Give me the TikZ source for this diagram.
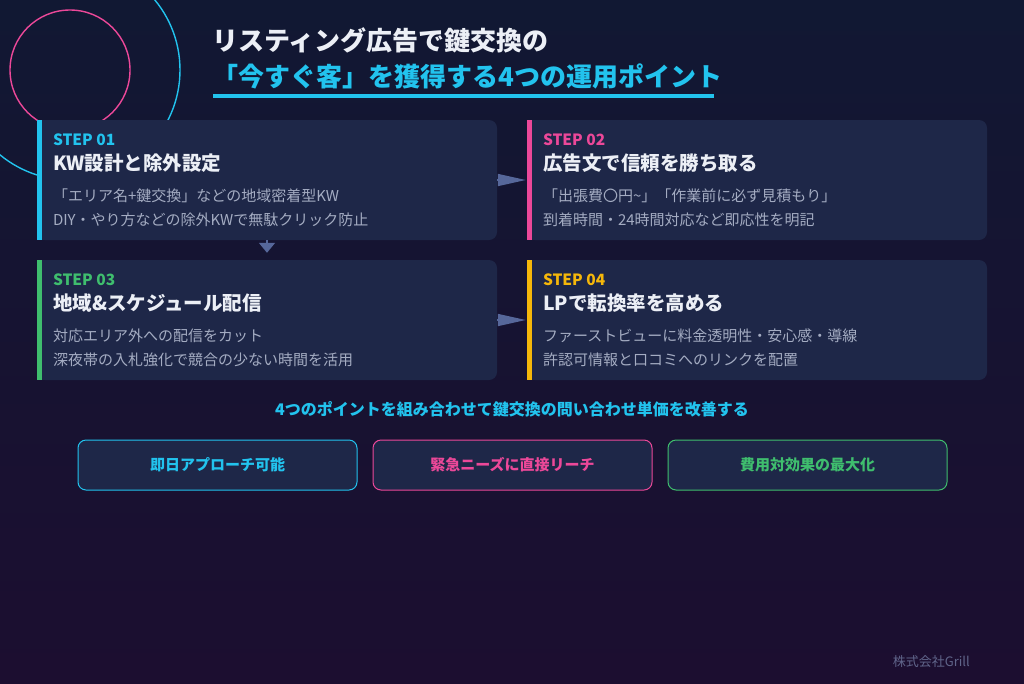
\documentclass[tikz,border=0pt]{standalone}
\usepackage{fontspec}
\setmainfont{Noto Sans CJK JP}
\usepackage{xcolor}
\usepackage{tikz}
\usetikzlibrary{positioning,arrows.meta}

\definecolor{bgtop}{HTML}{111833}
\definecolor{bgbot}{HTML}{1C0E30}
\definecolor{panel}{HTML}{1E2748}
\definecolor{kcyan}{HTML}{22C3EE}
\definecolor{kpink}{HTML}{EC4899}
\definecolor{kgreen}{HTML}{3FBE6E}
\definecolor{kamber}{HTML}{F5B70A}
\definecolor{flowc}{HTML}{56679A}
\definecolor{desctext}{HTML}{A4ACC2}
\definecolor{headtext}{HTML}{ECEFF6}
\definecolor{foottext}{HTML}{60658A}

\tikzset{
  stepbox/.style={fill=panel, rounded corners=8pt, inner sep=0pt, minimum width=460pt, minimum height=120pt},
  steptag/.style={inner sep=0pt, font=\fontsize{15.5}{18}\selectfont\bfseries},
  stephead/.style={inner sep=0pt, text=headtext, font=\fontsize{19.5}{23}\selectfont\bfseries},
  stepdesc/.style={inner sep=0pt, text=desctext, font=\fontsize{15}{18}\selectfont},
  flow/.style={draw=flowc, line width=1.5pt},
  gainbox/.style={fill=panel, rounded corners=8pt, line width=1pt, minimum width=279pt, minimum height=50pt, font=\fontsize{15}{17}\selectfont\bfseries},
}

\begin{document}
\begin{tikzpicture}[x=1pt, y=-1pt]
        \useasboundingbox (0,0) rectangle (1024,683);
        \shade [top color=bgtop, bottom color=bgbot] (0,0) rectangle (1024,683);

        % maru 丸
        \draw [kcyan, line width=1.4pt] (70,70) circle (110pt);
        \draw [kpink, line width=1.4pt] (70,70) circle (60pt);

        % taitoru タイトル
        \node (title1) [anchor=base west, inner sep=0pt, text=headtext, font=\fontsize{26}{30}\selectfont\bfseries] at (212,50) {リスティング広告で鍵交換の};
        \node (title2) [below right=36pt and 0pt of title1.base west, anchor=base west, inner sep=0pt, text=kcyan, font=\fontsize{26}{30}\selectfont\bfseries] {「今すぐ客」を獲得する4つの運用ポイント};
        \draw [kcyan, line width=4pt] (213,96) -- (714,96);

        % suteppu ステップ
        \node (box1) [stepbox] at (267,180) {};
        \fill [kcyan] (box1.north west) rectangle ([xshift=5pt]box1.south west);
        \fill [panel] ([xshift=5pt]box1.north west) rectangle ([xshift=9pt]box1.south west);
        \node (tag1) [steptag, text=kcyan, below right=26pt and 16pt of box1.north west, anchor=base west] {STEP 01};
        \node (head1) [stephead, below right=51pt and 16pt of box1.north west, anchor=base west] {KW設計と除外設定};
        \node (desc11) [stepdesc, below right=82pt and 16pt of box1.north west, anchor=base west] {「エリア名+鍵交換」などの地域密着型KW};
        \node (desc12) [stepdesc, below right=106pt and 16pt of box1.north west, anchor=base west] {DIY・やり方などの除外KWで無駄クリック防止};

        \node (box2) [stepbox] at (757,180) {};
        \fill [kpink] (box2.north west) rectangle ([xshift=5pt]box2.south west);
        \fill [panel] ([xshift=5pt]box2.north west) rectangle ([xshift=9pt]box2.south west);
        \node (tag2) [steptag, text=kpink, below right=26pt and 16pt of box2.north west, anchor=base west] {STEP 02};
        \node (head2) [stephead, below right=51pt and 16pt of box2.north west, anchor=base west] {広告文で信頼を勝ち取る};
        \node (desc21) [stepdesc, below right=82pt and 16pt of box2.north west, anchor=base west] {「出張費〇円\char`\~」「作業前に必ず見積もり」};
        \node (desc22) [stepdesc, below right=106pt and 16pt of box2.north west, anchor=base west] {到着時間・24時間対応など即応性を明記};

        \node (box3) [stepbox] at (267,320) {};
        \fill [kgreen] (box3.north west) rectangle ([xshift=5pt]box3.south west);
        \fill [panel] ([xshift=5pt]box3.north west) rectangle ([xshift=9pt]box3.south west);
        \node (tag3) [steptag, text=kgreen, below right=26pt and 16pt of box3.north west, anchor=base west] {STEP 03};
        \node (head3) [stephead, below right=51pt and 16pt of box3.north west, anchor=base west] {地域\&スケジュール配信};
        \node (desc31) [stepdesc, below right=82pt and 16pt of box3.north west, anchor=base west] {対応エリア外への配信をカット};
        \node (desc32) [stepdesc, below right=106pt and 16pt of box3.north west, anchor=base west] {深夜帯の入札強化で競合の少ない時間を活用};

        \node (box4) [stepbox] at (757,320) {};
        \fill [kamber] (box4.north west) rectangle ([xshift=5pt]box4.south west);
        \fill [panel] ([xshift=5pt]box4.north west) rectangle ([xshift=9pt]box4.south west);
        \node (tag4) [steptag, text=kamber, below right=26pt and 16pt of box4.north west, anchor=base west] {STEP 04};
        \node (head4) [stephead, below right=51pt and 16pt of box4.north west, anchor=base west] {LPで転換率を高める};
        \node (desc41) [stepdesc, below right=82pt and 16pt of box4.north west, anchor=base west] {ファーストビューに料金透明性・安心感・導線};
        \node (desc42) [stepdesc, below right=106pt and 16pt of box4.north west, anchor=base west] {許認可情報と口コミへのリンクを配置};

        \draw [flow, -{Triangle[length=28pt, width=12pt]}, shorten >=1pt] (box1.east) -- (box2.west);
        \draw [flow, -{Triangle[length=10pt, width=16pt]}, shorten >=7pt] (box1.south) -- (box3.north);
        \draw [flow, -{Triangle[length=28pt, width=12pt]}, shorten >=1pt] (box3.east) -- (box4.west);

        % matome まとめ
        \node (summary) [text=kcyan, font=\fontsize{16}{18}\selectfont\bfseries] at (512,409) {4つのポイントを組み合わせて鍵交換の問い合わせ単価を改善する};
        \node (gain1) [gainbox, draw=kcyan, text=kcyan] at (217.5,465) {\raisebox{1.5pt}{即日アプローチ可能}};
        \node (gain2) [gainbox, draw=kpink, text=kpink] at (512.5,465) {\raisebox{1.5pt}{緊急ニーズに直接リーチ}};
        \node (gain3) [gainbox, draw=kgreen, text=kgreen] at (807.5,465) {\raisebox{1.5pt}{費用対効果の最大化}};

        \node (corp) [anchor=base east, inner sep=0pt, text=foottext, font=\fontsize{13}{15}\selectfont] at (970,666) {株式会社Grill};
\end{tikzpicture}
\end{document}
